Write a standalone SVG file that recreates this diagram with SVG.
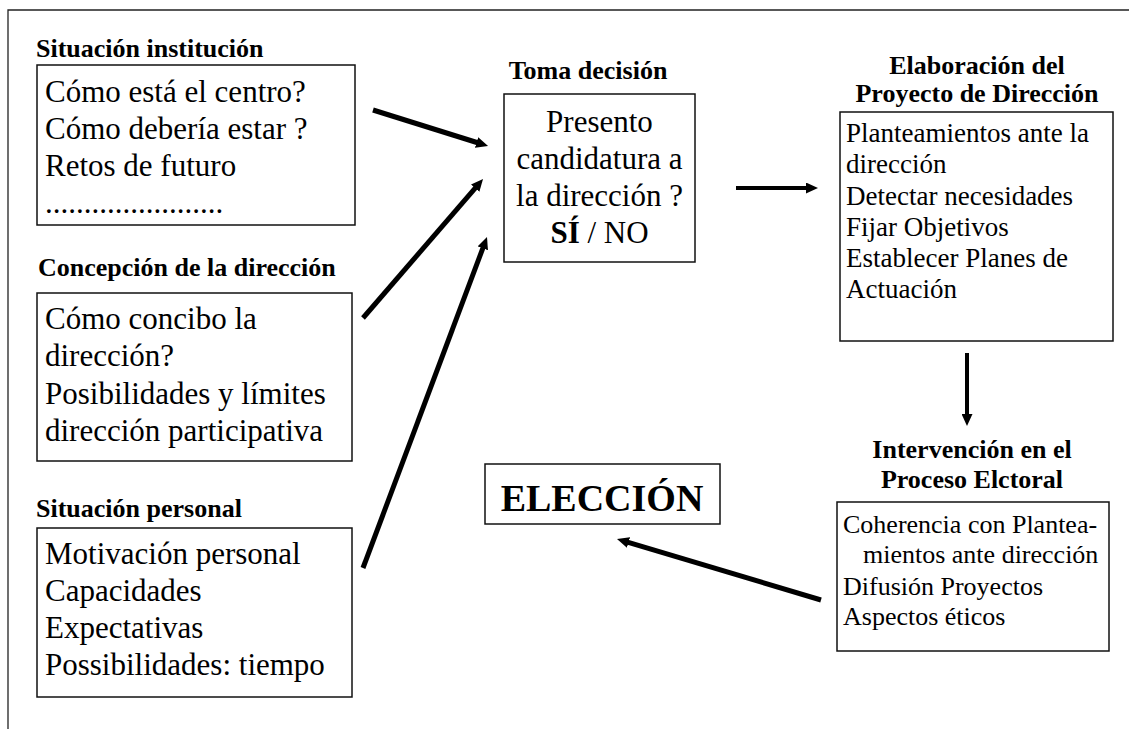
<svg xmlns="http://www.w3.org/2000/svg" width="1129" height="729" viewBox="0 0 1129 729">
<style>
text{font-family:"Liberation Serif","Times New Roman",serif;fill:#000}
.t{font-weight:bold;font-size:26px}
.b{font-size:31px}
.r{font-size:27px}
.s{font-size:26px}
.c{text-anchor:middle}
.box{fill:#fff;stroke:#111;stroke-width:1.5}
.frame{stroke:#222;stroke-width:1.3;fill:none}
.arr{stroke:#000;fill:none;marker-end:url(#ah)}
</style>
<defs>
<marker id="ah" markerUnits="userSpaceOnUse" markerWidth="12" markerHeight="11" viewBox="0 0 12 11" refX="2" refY="5.5" orient="auto">
<path d="M0,0 L12,5.5 L0,11 z" fill="#000"/>
</marker>
</defs>
<rect width="1129" height="729" fill="#fff"/>
<path class="frame" d="M8,729 V10 H1129"/>

<g id="situacion-institucion">
<text class="t" x="36" y="57">Situación institución</text>
<rect class="box" x="37" y="65" width="318" height="160"/>
<text class="b" x="45" y="102">Cómo está el centro?</text>
<text class="b" x="45" y="139">Cómo debería estar ?</text>
<text class="b" x="45" y="176">Retos de futuro</text>
<text class="b" x="45" y="213">.......................</text>
</g>

<g id="concepcion-direccion">
<text class="t" x="38" y="276">Concepción de la dirección</text>
<rect class="box" x="37" y="293" width="315" height="168"/>
<text class="b" x="45" y="329">Cómo concibo la</text>
<text class="b" x="45" y="366">dirección?</text>
<text class="b" x="45" y="404">Posibilidades y límites</text>
<text class="b" x="45" y="441">dirección participativa</text>
</g>

<g id="situacion-personal">
<text class="t" x="36" y="517">Situación personal</text>
<rect class="box" x="37" y="528" width="315" height="169"/>
<text class="b" x="45" y="564">Motivación personal</text>
<text class="b" x="45" y="601">Capacidades</text>
<text class="b" x="45" y="638">Expectativas</text>
<text class="b" x="45" y="675">Possibilidades: tiempo</text>
</g>

<g id="toma-decision">
<text class="t c" x="588" y="79">Toma decisión</text>
<rect class="box" x="504" y="94" width="191" height="168"/>
<text class="b c" x="599.5" y="132">Presento</text>
<text class="b c" x="599.5" y="169">candidatura a</text>
<text class="b c" x="599.5" y="206">la dirección ?</text>
<text class="b c" x="599.5" y="243"><tspan font-weight="bold">SÍ</tspan> / NO</text>
</g>

<g id="elaboracion-proyecto">
<text class="t c" x="977" y="74" font-size="25">Elaboración del</text>
<text class="t c" x="977" y="102" font-size="25">Proyecto de Dirección</text>
<rect class="box" x="840" y="112" width="273" height="229"/>
<text class="r" x="846" y="142">Planteamientos ante la</text>
<text class="r" x="846" y="173">dirección</text>
<text class="r" x="846" y="205">Detectar necesidades</text>
<text class="r" x="846" y="236">Fijar Objetivos</text>
<text class="r" x="846" y="267">Establecer Planes de</text>
<text class="r" x="846" y="298">Actuación</text>
</g>

<g id="intervencion-proceso">
<text class="t c" x="972" y="458">Intervención en el</text>
<text class="t c" x="972" y="488">Proceso Elctoral</text>
<rect class="box" x="837" y="502" width="272" height="149"/>
<text class="s" x="843" y="533">Coherencia con Plantea-</text>
<text class="s" x="863" y="563">mientos ante dirección</text>
<text class="s" x="843" y="595">Difusión Proyectos</text>
<text class="s" x="843" y="625">Aspectos éticos</text>
</g>

<g id="eleccion">
<rect class="box" x="485" y="464" width="235" height="60"/>
<text class="c" x="602" y="511" font-size="38" font-weight="bold">ELECCIÓN</text>
</g>

<g id="connectors">
<line class="arr" x1="373" y1="110" x2="478.5" y2="143" stroke-width="5"/>
<line class="arr" x1="363" y1="318" x2="476.5" y2="186.6" stroke-width="5"/>
<line class="arr" x1="363" y1="568" x2="483.5" y2="246.4" stroke-width="5"/>
<line class="arr" x1="736" y1="188" x2="808" y2="188" stroke-width="4"/>
<line class="arr" x1="967" y1="353" x2="967" y2="416" stroke-width="4"/>
<line class="arr" x1="821" y1="600" x2="626.6" y2="541.9" stroke-width="5"/>
</g>
</svg>
